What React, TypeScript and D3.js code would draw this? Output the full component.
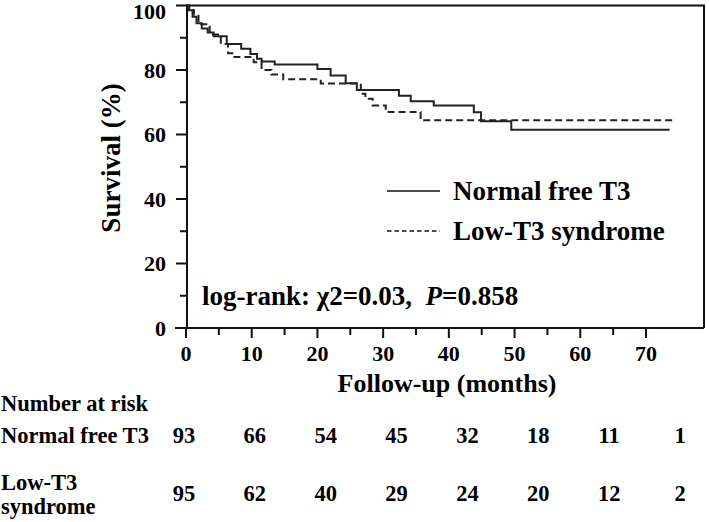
import * as d3 from "d3";

// Kaplan-Meier steps: time (months) and survival (%) after that time
const normalTimes = [0, 0.4, 1.0, 1.6, 2.4, 3.3, 4.2, 6.2, 8.4, 9.8, 10.8, 11.5, 13.5, 20.0, 22.0, 24.3, 26.0, 32.4, 34.2, 37.7, 43.8, 44.9, 49.5, 73.6];
const normalSurv = [100, 98.5, 96.5, 94.5, 92.9, 91.6, 90.5, 88.1, 86.6, 85.0, 83.5, 82.6, 81.7, 80.3, 78.3, 75.9, 73.8, 72.0, 70.3, 69.0, 66.9, 64.1, 61.5, 61.5];

const lowTimes = [0, 0.5, 1.2, 1.9, 3.6, 5.3, 6.4, 7.2, 10.3, 11.5, 13.0, 14.8, 20.5, 26.6, 27.3, 28.4, 30.4, 35.7, 74.3];
const lowSurv = [100, 98.5, 96.8, 94.2, 91.0, 88.1, 85.2, 84.0, 82.4, 80.0, 78.6, 77.1, 75.8, 72.6, 71.1, 69.0, 67.0, 64.4, 64.4];

const riskTimes = [0, 10, 20, 30, 40, 50, 60, 70];
const riskNormal = [93, 66, 54, 45, 32, 18, 11, 1];
const riskLow = [95, 62, 40, 29, 24, 20, 12, 2];

const yTicks = [0, 20, 40, 60, 80, 100];
const xTicks = [0, 10, 20, 30, 40, 50, 60, 70];

const FONT = "'Liberation Serif', 'Times New Roman', serif";

export default function App() {
  const width = 709;
  const height = 522;
  const left = 187;
  const right = 704;
  const top = 5.5;
  const bottom = 328;

  const x = d3.scaleLinear().domain([0, 70]).range([186, 646]);
  const y = d3.scaleLinear().domain([0, 100]).range([bottom, top]);
  const riskX = d3.scalePoint<number>().domain(riskTimes).range([184, 680]);

  const line = d3
    .line<[number, number]>()
    .x((d) => x(d[0]))
    .y((d) => y(d[1]))
    .curve(d3.curveStepAfter);

  const normalPts = normalTimes.map((t, i) => [t, normalSurv[i]] as [number, number]);
  const lowPts = lowTimes.map((t, i) => [t, lowSurv[i]] as [number, number]);

  const yMinor = d3.range(0, 101, 10);
  const xMinor = d3.range(0, 71, 5);

  return (
    <svg
      width={width}
      height={height}
      style={{ position: "absolute", left: 0, top: 0, background: "#fff" }}
      fontFamily={FONT}
      fontWeight="bold"
    >
      {/* frame */}
      <path
        d={`M${left},${bottom}V${top}H${right}V${bottom}`}
        fill="none"
        stroke="#111"
        strokeWidth={2}
      />
      <line x1={175} x2={right} y1={bottom} y2={bottom} stroke="#111" strokeWidth={2} />

      {/* y ticks */}
      {yMinor.map((v) => (
        <line
          key={"yt" + v}
          x1={left}
          x2={left - (v % 20 === 0 ? 11 : 7)}
          y1={y(v)}
          y2={y(v)}
          stroke="#111"
          strokeWidth={2}
        />
      ))}
      {yTicks.map((v) => (
        <text
          key={"yl" + v}
          x={166}
          y={Math.max(y(v), 11)}
          dy="0.35em"
          textAnchor="end"
          fontSize={22}
        >
          {v}
        </text>
      ))}

      {/* x ticks */}
      {xMinor.map((v) => (
        <line
          key={"xt" + v}
          x1={x(v)}
          x2={x(v)}
          y1={bottom}
          y2={bottom + (v % 10 === 0 ? 10 : 7)}
          stroke="#111"
          strokeWidth={2}
        />
      ))}
      {xTicks.map((v) => (
        <text key={"xl" + v} x={x(v)} y={361} textAnchor="middle" fontSize={22}>
          {v}
        </text>
      ))}

      {/* axis titles */}
      <text
        transform={`translate(120,158) rotate(-90)`}
        textAnchor="middle"
        fontSize={27}
      >
        Survival (%)
      </text>
      <text x={447} y={392} textAnchor="middle" fontSize={26}>
        Follow-up (months)
      </text>

      {/* curves */}
      <path d={line(normalPts) ?? ""} fill="none" stroke="#222" strokeWidth={2} />
      <path
        d={line(lowPts) ?? ""}
        fill="none"
        stroke="#222"
        strokeWidth={2}
        strokeDasharray="7,4"
      />

      {/* legend */}
      <line x1={387} x2={440} y1={191} y2={191} stroke="#111" strokeWidth={1.4} />
      <text x={453} y={200} fontSize={27}>Normal free T3</text>
      <line
        x1={387}
        x2={440}
        y1={231}
        y2={231}
        stroke="#111"
        strokeWidth={1.4}
        strokeDasharray="4.5,3"
      />
      <text x={453} y={240} fontSize={27}>Low-T3 syndrome</text>

      {/* statistics */}
      <text x={202} y={305} fontSize={27}>
        log-rank: χ2=0.03,{"\u00a0\u00a0"}
        <tspan fontStyle="italic">P</tspan>=0.858
      </text>

      {/* number at risk */}
      <text x={1} y={411} fontSize={22.5}>Number at risk</text>
      <text x={1} y={443} fontSize={22.5}>Normal free T3</text>
      <text x={1} y={490} fontSize={22.5}>Low-T3</text>
      <text x={1} y={514} fontSize={22.5}>syndrome</text>
      {riskTimes.map((t, i) => (
        <text key={"rn" + t} x={riskX(t)} y={443} textAnchor="middle" fontSize={22.5}>
          {riskNormal[i]}
        </text>
      ))}
      {riskTimes.map((t, i) => (
        <text key={"rl" + t} x={riskX(t)} y={501} textAnchor="middle" fontSize={22.5}>
          {riskLow[i]}
        </text>
      ))}
    </svg>
  );
}
